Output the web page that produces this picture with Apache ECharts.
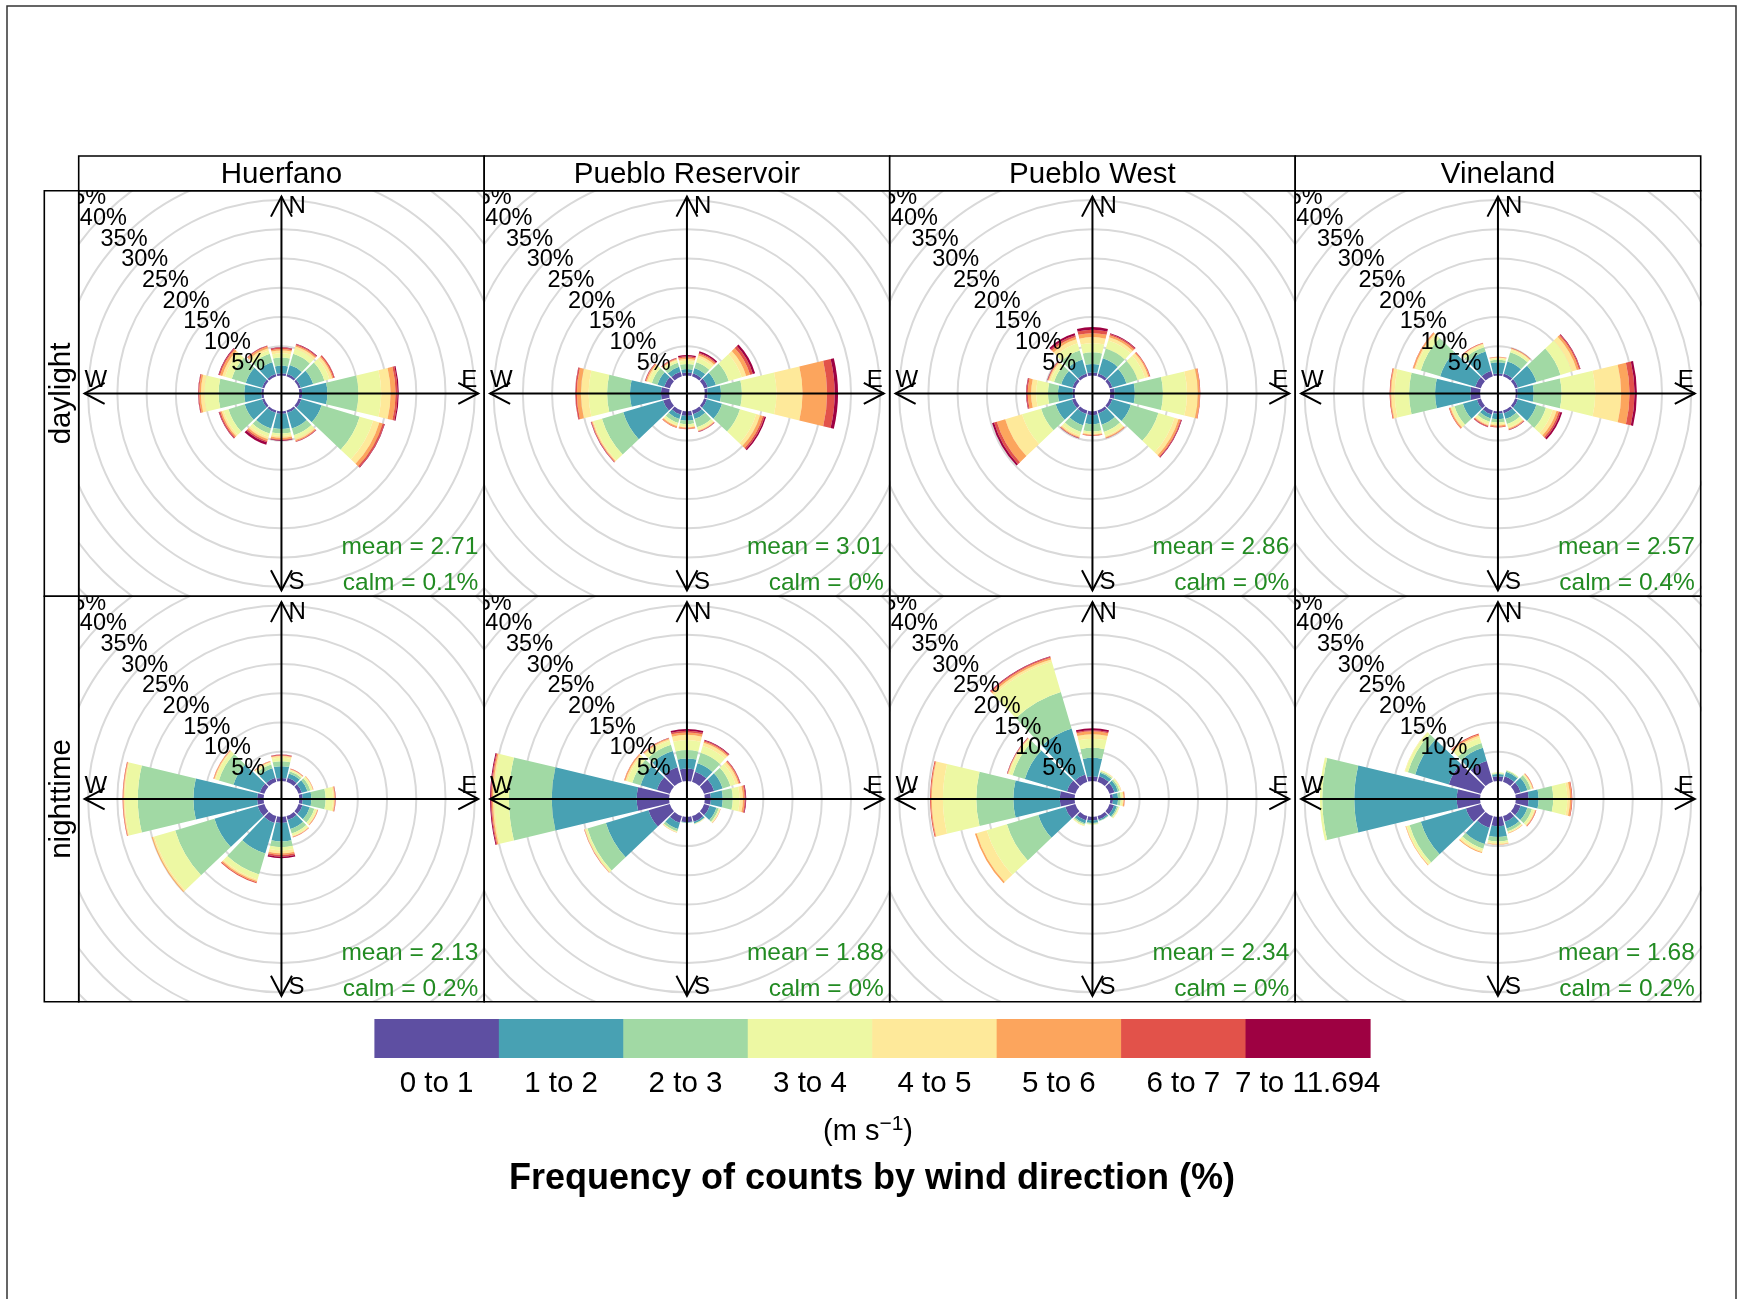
<!DOCTYPE html>
<html>
<head>
<meta charset="utf-8">
<script src="https://cdn.jsdelivr.net/npm/echarts@6/dist/echarts.min.js"></script>
<style>
html,body{margin:0;padding:0;background:#fff;}
#chart{width:1737px;height:1299px;}
</style>
</head>
<body>
<div id="chart"></div>
<script>
// ---------------- data ----------------
const sites = ['Huerfano', 'Pueblo Reservoir', 'Pueblo West', 'Vineland'];
const periods = ['daylight', 'nighttime'];
const directions = [0, 30, 60, 90, 120, 150, 180, 210, 240, 270, 300, 330];
const speedBins = ['0 to 1', '1 to 2', '2 to 3', '3 to 4', '4 to 5', '5 to 6', '6 to 7', '7 to 11.694'];
const binColors = ['#5E4FA2', '#48A1B3', '#A1D9A4', '#EDF8A3', '#FEE99A', '#FCA55D', '#E2524A', '#9E0142'];
const ringPercents = [5, 10, 15, 20, 25, 30, 35, 40, 45, 50];

// frequency (%) per direction (rows: 0..330 deg) and speed bin (columns)
const huerfanoDaylight = [
  [0.4,1.3,1.4,0.7,0.5,0.25,0.2,0.1],
  [0.4,1.6,2.0,0.9,0.4,0.25,0.15,0.1],
  [0.4,2.2,2.0,0.9,0.5,0.2,0.2,0.05],
  [0.5,4.3,5.3,3.9,1.6,0.85,0.35,0.2],
  [0.5,3.6,6.8,2.4,1.1,0.6,0.3,0.1],
  [0.4,2.8,1.2,0.6,0.25,0.2,0.1,0.05],
  [0.4,2.6,0.8,0.4,0.3,0.3,0.15,0.1],
  [0.4,2.8,0.9,0.6,0.4,0.3,0.25,0.45],
  [0.4,3.1,2.9,0.85,0.35,0.25,0.2,0.1],
  [0.4,2.9,4.4,2.4,0.6,0.3,0.15,0.05],
  [0.4,2.9,2.5,1.2,0.5,0.4,0.2,0.1],
  [0.4,2.1,1.5,0.6,0.4,0.3,0.15,0.05]
];
const puebloReservoirDaylight = [
  [0.53,0.57,0.87,0.57,0.29,0.27,0.2,0.22],
  [0.55,0.95,1.0,0.8,0.4,0.3,0.2,0.25],
  [0.65,1.45,2.3,2.3,0.8,0.7,0.5,0.4],
  [0.5,2.27,3.57,5.91,4.45,4.2,1.3,0.57],
  [0.5,2.7,3.2,2.9,0.7,0.5,0.3,0.25],
  [0.65,0.85,1.45,0.45,0.2,0.1,0.08,0.04],
  [0.76,0.86,0.58,0.4,0.17,0.18,0.11,0],
  [0.7,0.8,0.7,0.4,0.2,0.2,0.1,0],
  [1.2,7.1,3.8,1.5,0.2,0.15,0.1,0.05],
  [1.4,5.28,3.92,3.15,1.32,0.69,0.24,0.05],
  [1.0,1.2,1.0,0.6,0.3,0.2,0.1,0.05],
  [0.8,0.9,0.7,0.4,0.2,0.15,0.1,0.05]
];
const puebloWestDaylight = [
  [0.53,1.44,2.01,1.55,1.04,0.68,0.58,0.46],
  [0.5,2.7,1.76,1.44,0.57,0.33,0.25,0.11],
  [0.5,2.5,2.0,1.3,0.6,0.2,0.12,0.03],
  [0.76,3.44,4.8,4.1,1.86,0.34,0.1,0],
  [0.5,3.3,4.9,2.86,0.74,0.35,0.15,0.1],
  [0.5,2.0,1.3,0.7,0.25,0.15,0.06,0],
  [0.66,1.54,1.26,0.34,0.2,0.1,0.1,0],
  [0.6,2.0,1.2,0.6,0.3,0.15,0.08,0.03],
  [0.6,2.9,2.6,3.4,3.0,1.5,0.5,0.34],
  [0.36,2.47,1.72,2.02,0.86,0.57,0.2,0.09],
  [0.5,2.0,1.3,0.6,0.3,0.15,0.1,0.05],
  [0.5,2.5,1.6,1.3,0.7,0.4,0.3,0.36]
];
const vinelandDaylight = [
  [0.36,1.9,0.44,0.25,0.15,0.08,0.04,0.01],
  [0.5,2.16,1.64,0.4,0.2,0.1,0.07,0],
  [0.5,3.3,4.3,2.0,0.9,0.4,0.2,0.08],
  [0.36,2.7,4.77,5.75,4.42,1.44,0.86,0.4],
  [0.5,3.3,1.7,1.2,0.7,0.4,0.3,0.3],
  [0.5,1.0,0.9,0.6,0.2,0.15,0.1,0.05],
  [0.36,0.97,0.57,0.3,0.2,0.2,0.17,0],
  [0.7,0.7,0.6,0.4,0.2,0.15,0.15,0.05],
  [0.7,2.5,1.5,0.5,0.2,0.2,0.1,0],
  [1.68,6.02,4.44,2.46,0.6,0.15,0.12,0],
  [1.0,6.25,3.45,0.9,0.25,0.25,0.05,0],
  [1.0,3.4,0.8,0.4,0.2,0.1,0.1,0]
];
const huerfanoNighttime = [
  [0.53,2.01,0.86,0.58,0.29,0.11,0.12,0.05],
  [0.7,0.8,0.4,0.2,0.1,0.1,0.07,0],
  [0.6,1.0,0.5,0.3,0.15,0.07,0.04,0],
  [0.59,1.49,2.42,1.26,0.24,0.12,0.08,0.02],
  [0.7,1.3,0.8,0.4,0.15,0.1,0.05,0],
  [0.7,1.6,0.8,0.4,0.15,0.1,0.05,0],
  [1.05,3.16,0.98,0.57,0.46,0.29,0.29,0.28],
  [1.22,5.46,3.72,0.9,0.26,0.24,0.17,0],
  [1.2,7.7,7.0,3.7,0.3,0.17,0,0],
  [1.1,10.9,9.5,2.2,0.2,0.1,0.1,0],
  [0.8,4.7,2.6,0.6,0.2,0.14,0.06,0],
  [0.7,1.7,0.7,0.3,0.15,0.1,0.05,0]
];
const puebloReservoirNighttime = [
  [2.14,1.72,1.44,1.7,0.9,0.4,0.28,0.32],
  [1.8,1.5,1.9,1.2,0.57,0.23,0.17,0.13],
  [1.8,1.5,1.4,0.9,0.5,0.2,0.15,0.05],
  [1.05,2.01,1.72,1.15,0.58,0.29,0.17,0.11],
  [1.0,1.2,0.4,0.2,0.1,0.03,0.02,0],
  [1.0,0.3,0.1,0.05,0.05,0,0,0],
  [0.9,0.1,0.05,0,0,0,0,0],
  [1.2,1.1,0.4,0.15,0.07,0.03,0,0],
  [3.8,7.6,3.3,0.37,0.13,0.05,0.05,0],
  [5.53,14.54,7.3,2.47,0.26,0.2,0.15,0.15],
  [2.3,2.9,1.5,0.9,0.3,0.2,0.05,0],
  [2.6,2.9,1.1,0.7,0.3,0.15,0.05,0.05]
];
const puebloWestNighttime = [
  [0.82,3.16,1.72,1.55,0.75,0.5,0.2,0.34],
  [1.0,0.6,0.25,0.15,0.05,0.03,0,0],
  [0.9,0.6,0.3,0.2,0.06,0.04,0,0],
  [0.47,0.86,0.47,0.3,0.18,0.17,0.05,0],
  [0.8,0.5,0.25,0.15,0.1,0,0,0],
  [0.6,0.25,0.08,0,0,0,0,0],
  [0.59,0.46,0.15,0.13,0,0,0,0],
  [0.8,0.5,0.25,0.15,0.1,0,0,0],
  [1.8,4.8,5.6,3.6,1.8,0.3,0,0],
  [2.54,7.93,6.33,5.7,1.9,0.15,0.15,0],
  [1.5,7.5,2.2,0.6,0.2,0.1,0.05,0.05],
  [1.3,8.2,6.5,5.4,0.4,0.3,0.2,0.1]
];
const vinelandNighttime = [
  [0.82,0.38,0.15,0.15,0,0,0,0],
  [1.0,0.8,0.2,0.1,0,0,0,0],
  [1.0,1.2,0.6,0.2,0.15,0.1,0.05,0],
  [2.2,1.7,2.5,2.4,0.46,0.29,0.12,0],
  [1.0,1.2,0.8,0.4,0.2,0.1,0.1,0],
  [1.0,1.2,0.5,0.2,0.1,0.1,0,0],
  [1.62,1.84,0.74,0.3,0.2,0.08,0,0],
  [2.08,2.88,0.84,0.4,0.25,0.15,0,0],
  [2.66,8.04,2.0,0.5,0.15,0.1,0,0],
  [3.98,17.52,5.47,0.4,0,0,0,0],
  [5.7,6.0,1.3,0.5,0.1,0,0,0],
  [3.7,2.35,0.85,0.9,0.4,0.25,0.15,0]
];
const meanDaylight = [2.71, 3.01, 2.86, 2.57];
const meanNighttime = [2.13, 1.88, 2.34, 1.68];
const calmDaylight = [0.1, 0, 0, 0.4];
const calmNighttime = [0.2, 0, 0, 0.2];

// ---------------- build ----------------
const panelData = [
  [huerfanoDaylight, puebloReservoirDaylight, puebloWestDaylight, vinelandDaylight],
  [huerfanoNighttime, puebloReservoirNighttime, puebloWestNighttime, vinelandNighttime]
];
const panelMean = [meanDaylight, meanNighttime];
const panelCalm = [calmDaylight, calmNighttime];

// openair-style scaling: offset = 10% of max total, limits 1.03*(max+offset)
let maxFreq = 0;
panelData.forEach(row => row.forEach(p => p.forEach(d => {
  const s = d.reduce((a, b) => a + b, 0);
  if (s > maxFreq) maxFreq = s;
})));
const offSet = maxFreq * 0.1;
const reach = maxFreq + offSet;
const lim = 1.03 * reach;
const halfWidth = 0.9 * 30 / 2;

const FONT = 'Liberation Sans, Arial, Helvetica, sans-serif';
const X0 = 78.7, Y0 = 190.7, PW = 405.5, PH = 405.5;

const grids = [], xAxes = [], yAxes = [], series = [], graphics = [];

function ringRender(params, api) {
  const c = api.coord([0, 0]);
  const r = api.size([api.value(0) + offSet, 0])[0];
  return { type: 'circle', shape: { cx: c[0], cy: c[1], r: r },
    style: { fill: 'none', stroke: '#D9D9D9', lineWidth: 2 } };
}
function ringLabelRender(params, api) {
  const c = api.coord([0, 0]);
  const r = api.size([api.value(0) + offSet, 0])[0];
  return { type: 'text', x: c[0] - r * Math.SQRT1_2, y: c[1] - r * Math.SQRT1_2 + 3,
    style: { text: api.value(0) + '%', fontSize: 23.5, fontFamily: FONT, fill: '#000',
      align: 'center', verticalAlign: 'middle' } };
}
function barRender(params, api) {
  const lo = api.value(0), hi = api.value(1), dir = api.value(2), bin = api.value(3);
  if (hi - lo <= 0) return null;
  const c = api.coord([0, 0]);
  const r0 = api.size([lo + offSet, 0])[0];
  const r1 = api.size([hi + offSet, 0])[0];
  return { type: 'sector', shape: { cx: c[0], cy: c[1], r0: r0, r: r1,
      startAngle: (dir - halfWidth - 90) * Math.PI / 180,
      endAngle: (dir + halfWidth - 90) * Math.PI / 180, clockwise: true },
    style: { fill: binColors[bin], stroke: null } };
}
function frameRender(params, api) {
  const c = api.coord([0, 0]);
  const a = api.size([reach, 0])[0];
  const cx = c[0], cy = c[1];
  const ls = { stroke: '#000', lineWidth: 2, fill: 'none' };
  const hl = 20, hw = 10.5;
  const ts = (t, al, va, size, col) => ({ text: t, fontSize: size || 24, fontFamily: FONT,
    fill: col || '#000', align: al, verticalAlign: va });
  const kids = [
    { type: 'line', shape: { x1: cx, y1: cy - a, x2: cx, y2: cy + a }, style: ls },
    { type: 'line', shape: { x1: cx - a, y1: cy, x2: cx + a, y2: cy }, style: ls },
    { type: 'polyline', shape: { points: [[cx - hw, cy - a + hl], [cx, cy - a], [cx + hw, cy - a + hl]] }, style: ls },
    { type: 'polyline', shape: { points: [[cx - hw, cy + a - hl], [cx, cy + a], [cx + hw, cy + a - hl]] }, style: ls },
    { type: 'polyline', shape: { points: [[cx - a + hl, cy - hw], [cx - a, cy], [cx - a + hl, cy + hw]] }, style: ls },
    { type: 'polyline', shape: { points: [[cx + a - hl, cy - hw], [cx + a, cy], [cx + a - hl, cy + hw]] }, style: ls },
    { type: 'text', x: cx + 7, y: cy - a + 10, style: ts('N', 'left', 'middle') },
    { type: 'text', x: cx + 7, y: cy + a - 8, style: ts('S', 'left', 'middle') },
    { type: 'text', x: cx + a - 1, y: cy - 13, style: ts('E', 'right', 'middle') },
    { type: 'text', x: cx - a, y: cy - 13, style: ts('W', 'left', 'middle') },
    { type: 'text', x: cx + a, y: cy + a - 43, style: ts('mean = ' + api.value(2).toFixed(2), 'right', 'middle', 24.5, '#228B22') },
    { type: 'text', x: cx + a, y: cy + a - 7, style: ts('calm = ' + api.value(3) + '%', 'right', 'middle', 24.5, '#228B22') }
  ];
  return { type: 'group', children: kids };
}

for (let r = 0; r < 2; r++) {
  for (let c = 0; c < 4; c++) {
    const idx = r * 4 + c;
    grids.push({ left: X0 + c * PW, top: Y0 + r * PH, width: PW, height: PH, show: false });
    xAxes.push({ type: 'value', gridIndex: idx, min: -lim, max: lim, show: false });
    yAxes.push({ type: 'value', gridIndex: idx, min: -lim, max: lim, show: false });

    const barItems = [];
    panelData[r][c].forEach((bins, di) => {
      let cum = 0;
      bins.forEach((v, bi) => {
        barItems.push([cum, cum + v, directions[di], bi]);
        cum += v;
      });
    });
    const common = { type: 'custom', coordinateSystem: 'cartesian2d', xAxisIndex: idx, yAxisIndex: idx,
      clip: true, silent: true, encode: { x: 0, y: 1 } };
    series.push(Object.assign({}, common, { z: 1, data: ringPercents.map(p => [p, 0]), renderItem: ringRender }));
    series.push(Object.assign({}, common, { z: 2, data: barItems, renderItem: barRender }));
    series.push(Object.assign({}, common, { z: 3, data: ringPercents.map(p => [p, 0]), renderItem: ringLabelRender }));
    series.push(Object.assign({}, common, { z: 4, data: [[0, 0, panelMean[r][c], panelCalm[r][c]]], renderItem: frameRender }));

    // panel border
    graphics.push({ type: 'rect', z: 100, shape: { x: X0 + c * PW, y: Y0 + r * PH, width: PW, height: PH },
      style: { fill: 'none', stroke: '#000', lineWidth: 1.6 } });
  }
}

// top strips
sites.forEach((s, c) => {
  graphics.push({ type: 'rect', z: 100, shape: { x: X0 + c * PW, y: 156, width: PW, height: Y0 - 156 },
    style: { fill: '#fff', stroke: '#000', lineWidth: 1.6 } });
  graphics.push({ type: 'text', z: 101, x: X0 + c * PW + PW / 2, y: 175,
    style: { text: s, fontSize: 29.5, fontFamily: FONT, fill: '#000', align: 'center', verticalAlign: 'middle' } });
});
// left strips
periods.forEach((p, r) => {
  graphics.push({ type: 'rect', z: 100, shape: { x: 44.3, y: Y0 + r * PH, width: X0 - 44.3, height: PH },
    style: { fill: '#fff', stroke: '#000', lineWidth: 1.6 } });
  graphics.push({ type: 'text', z: 101, x: 62, y: Y0 + r * PH + PH / 2, rotation: Math.PI / 2,
    style: { text: p, fontSize: 29.5, fontFamily: FONT, fill: '#000', align: 'center', verticalAlign: 'middle' } });
});
// legend colour key
const keyX = 374.4, keyW = 124.45, keyY = 1019, keyH = 39;
speedBins.forEach((lab, i) => {
  graphics.push({ type: 'rect', shape: { x: keyX + i * keyW, y: keyY, width: keyW + 0.6, height: keyH },
    style: { fill: binColors[i] } });
  graphics.push({ type: 'text', x: keyX + (i + 0.5) * keyW, y: 1084,
    style: { text: lab, fontSize: 29.5, fontFamily: FONT, fill: '#000', align: 'center', verticalAlign: 'middle' } });
});
graphics.push({ type: 'text', x: 868, y: 1130,
  style: { text: '{a|(m s}{b|\u22121}{a|)}', fontFamily: FONT, fill: '#000', align: 'center', verticalAlign: 'middle',
    rich: { a: { fontSize: 29, fontFamily: FONT, fill: '#000', verticalAlign: 'bottom' },
            b: { fontSize: 21, fontFamily: FONT, fill: '#000', verticalAlign: 'top', padding: [0, 0, 12, 0] } } } });
graphics.push({ type: 'text', x: 872, y: 1179,
  style: { text: 'Frequency of counts by wind direction (%)', fontSize: 36, fontWeight: 'bold', fontFamily: FONT,
    fill: '#000', align: 'center', verticalAlign: 'middle' } });
// outer frame
graphics.push({ type: 'rect', z: 100, shape: { x: 7, y: 6, width: 1729, height: 1400 },
  style: { fill: 'none', stroke: '#333', lineWidth: 1.5 } });

const chart = echarts.init(document.getElementById('chart'), null, { renderer: 'canvas' });
chart.setOption({
  animation: false,
  backgroundColor: '#fff',
  grid: grids,
  xAxis: xAxes,
  yAxis: yAxes,
  series: series,
  graphic: { elements: graphics }
});
</script>
</body>
</html>
